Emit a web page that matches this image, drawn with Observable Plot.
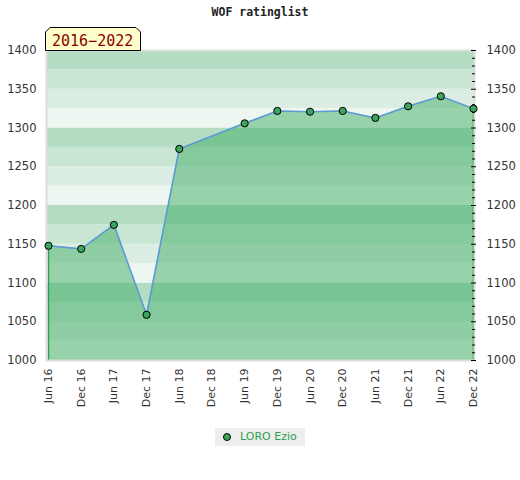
<!DOCTYPE html>
<html>
<head>
<meta charset="utf-8">
<script src="https://cdn.jsdelivr.net/npm/d3@7"></script>
<script src="https://cdn.jsdelivr.net/npm/@observablehq/plot@0.6"></script>
<style>
  html, body { margin: 0; padding: 0; background: #fff; }
  #wrap { position: relative; width: 520px; height: 480px; overflow: hidden; }
  #title { position: absolute; left: 0; width: 520px; top: 5px; text-align: center;
           font-family: "DejaVu Sans Mono", monospace; font-weight: bold; font-size: 11.5px; color: #222; }
  #badge { position: absolute; left: 45px; top: 27px; }
  #legend { position: absolute; left: 215px; top: 428px; width: 90px; height: 18px; background: #eeeeee;
            font-family: "DejaVu Sans", sans-serif; font-size: 11px; color: #2ea04f; }
  #legend .dot { position: absolute; left: 8px; top: 5px; width: 6px; height: 6px; border-radius: 50%;
                 background: #3ca55c; border: 1px solid #000; }
  #legend .lbl { position: absolute; left: 25px; top: 2px; white-space: nowrap; }
  #chart { position: absolute; left: 0; top: 0; }
</style>
</head>
<body>
<div id="wrap">
  <div id="chart"></div>
  <div id="title">WOF ratinglist</div>
  <svg id="badge" width="97" height="24" xmlns="http://www.w3.org/2000/svg">
    <polygon points="5,0.5 91,0.5 95.5,5 95.5,23.5 0.5,23.5 0.5,5" fill="#ffffcc" stroke="#000" stroke-width="1"/>
    <text x="7" y="18.5" font-family="DejaVu Sans Mono, monospace" font-size="15" fill="#8b0000">2016−2022</text>
  </svg>
  <div id="legend"><span class="dot"></span><span class="lbl">LORO Ezio</span></div>
</div>
<script>
// Tick labels of the x axis (half-year periods)
const periods = ["Jun 16", "Dec 16", "Jun 17", "Dec 17", "Jun 18", "Dec 18", "Jun 19",
                 "Dec 19", "Jun 20", "Dec 20", "Jun 21", "Dec 21", "Jun 22", "Dec 22"];
// Periods that have a rating (no Dec 18 entry)
const ratedPeriods = ["Jun 16", "Dec 16", "Jun 17", "Dec 17", "Jun 18", "Jun 19",
                      "Dec 19", "Jun 20", "Dec 20", "Jun 21", "Dec 21", "Jun 22", "Dec 22"];
const ratings = [1148, 1144, 1175, 1059, 1273, 1306, 1322, 1321, 1322, 1313, 1328, 1341, 1325];
// Y axis tick labels
const yTicks = [1000, 1050, 1100, 1150, 1200, 1250, 1300, 1350, 1400];
// Background band edges and colours
const bandEdges = [1000, 1025, 1050, 1075, 1100, 1125, 1150, 1175, 1200, 1225, 1250, 1275, 1300, 1325, 1350, 1375, 1400];
const bandColors = ["#eef6f1", "#dcede3", "#c8e6d3", "#b3dcc2"];

const data = ratedPeriods.map((p, i) => ({period: p, rating: ratings[i]}));
const bands = bandEdges.slice(0, -1).map((lo, i) => ({lo, hi: bandEdges[i + 1], fill: bandColors[i % 4]}));
const minorTicks = d3.range(1000, 1401, 10).filter(v => v % 50 !== 0);
const ends = [data[0], data[data.length - 1]];

const chart = Plot.plot({
  width: 520,
  height: 420,
  marginTop: 50,
  marginBottom: 60,
  marginLeft: 46,
  marginRight: 46,
  style: {fontFamily: "DejaVu Sans, sans-serif", fontSize: "11px", color: "#333", background: "transparent"},
  x: {type: "point", domain: periods, range: [48, 473], padding: 0, round: false, label: null},
  y: {domain: [1000, 1400], label: null},
  color: {type: "identity"},
  marks: [
    Plot.rect(bands, {y1: "lo", y2: "hi", fill: "fill"}),
    Plot.areaY(data, {x: "period", y1: 1000, y2: "rating", fill: "#41ad66", fillOpacity: 0.5}),
    Plot.ruleX(ends, {x: "period", y1: 1000, y2: "rating", stroke: "#2ea04f", strokeWidth: 1.5}),
    Plot.line(data, {x: "period", y: "rating", stroke: "#5b9bd5", strokeWidth: 1.6}),
    Plot.frame({stroke: "#dddddd", strokeWidth: 2}),
    Plot.dot(data, {x: "period", y: "rating", r: 3.6, fill: "#3ca55c", stroke: "#000", strokeWidth: 1}),
    Plot.axisX({tickRotate: -90, tickSize: 0, tickPadding: 8, fontSize: 11, label: null}),
    Plot.axisY({anchor: "left", ticks: yTicks, tickSize: 0, tickPadding: 10, fontSize: 11.5, tickFormat: d => String(d), label: null}),
    Plot.axisY({anchor: "right", ticks: minorTicks, tickSize: 3, dx: -3, tickFormat: () => "", stroke: "#000", label: null}),
    Plot.axisY({anchor: "right", ticks: yTicks, tickSize: 5, dx: -4, tickPadding: 11, fontSize: 11.5, stroke: "#000", tickFormat: d => String(d), label: null})
  ]
});
document.getElementById("chart").appendChild(chart);
</script>
</body>
</html>
